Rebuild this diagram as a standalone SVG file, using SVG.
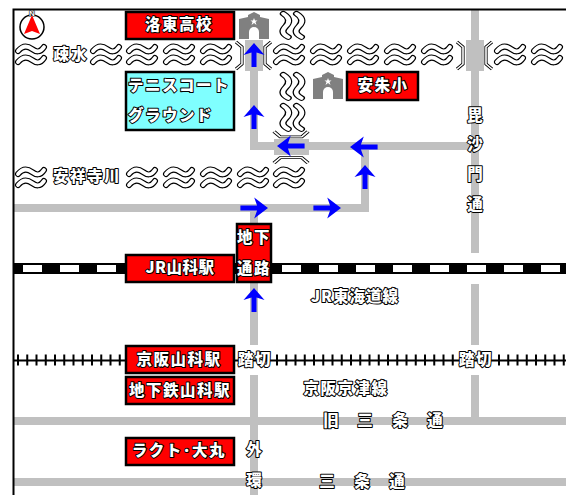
<svg xmlns="http://www.w3.org/2000/svg" width="566" height="495" viewBox="0 0 566 495">
<style>
text{font-family:"Noto Sans CJK JP","Liberation Sans",sans-serif;font-size:15.5px;font-weight:900;fill:#fff;stroke:#000;stroke-width:2px;paint-order:stroke;stroke-linejoin:round;text-anchor:middle}
.l{text-anchor:start;letter-spacing:1.500px}
.r{fill:#f00;stroke:#000;stroke-width:2.500}
.c{fill:#7fffff;stroke:#000;stroke-width:2.500}
.road{fill:none;stroke:#c0c0c0;stroke-width:8}
.bridge{fill:#c0c0c0}
.wo{fill:none;stroke:#000;stroke-width:6;stroke-linecap:round}
.wi{fill:none;stroke:#fff;stroke-width:3.800;stroke-linecap:round}
.bo{fill:none;stroke:#000;stroke-width:3.200}
.bi{fill:none;stroke:#fff;stroke-width:1.600}
.arr{fill:#00f}
.sch{fill:#808080}
</style>
<defs>
<g id="wave">
<path class="wo" d="M3 7C8 1 13 2 17 5S25 9 29 3M3 18C8 12 13 13 17 16S25 20 29 14"/>
<path class="wi" d="M3 7C8 1 13 2 17 5S25 9 29 3M3 18C8 12 13 13 17 16S25 20 29 14"/>
</g>
<g id="bridge">
<path class="bo" d="M0 0L6 5V22L0 27"/><path class="bi" d="M0 0L6 5V22L0 27"/>
<path class="bo" d="M35 0L29 5V22L35 27"/><path class="bi" d="M35 0L29 5V22L35 27"/>
</g>
<path id="up" class="arr" d="M0 0L10.500 12L2.500 9.500V24H-2.500V9.500L-10.500 12Z"/>
<g id="school">
<path class="sch" d="M0 7L9 5V3L15 0L21 3V5L30 7V27H0Z"/>
<path d="M10 27V20A5 5 0 0 1 20 20V27Z" fill="#fff"/>
<path d="M15 6L16 8.500H18.500L16.500 10L17.500 13L15 11L12.500 13L13.500 10L11.500 8.500H14Z" fill="#fff"/>
</g>
</defs>

<g id="connectors">
<path class="road" d="M254 68V146H473M365 146V208H13M254 208V345M254 375V495M13 421H566M13 482H566M475 9V253M475 284V345M475 375V421"/>
<rect class="bridge" x="245" y="40" width="18" height="31"/>
<rect class="bridge" x="466" y="40" width="18" height="31"/>
<rect class="bridge" x="274" y="139" width="35" height="16"/>
<g id="rail-jr">
<rect x="13" y="263" width="553" height="11" fill="#000"/>
<path d="M23 268.500H566" stroke="#fff" stroke-width="7" stroke-dasharray="19 18" fill="none"/>
</g>
<g id="rail-keihan">
<path d="M13 360.500H566" stroke="#000" stroke-width="2"/>
<path d="M17 360H566" stroke="#000" stroke-width="11" stroke-dasharray="2 7.250" fill="none"/>
</g>
</g>

<g id="rivers">
<use href="#wave" x="15" y="44"/><use href="#wave" x="90" y="44"/><use href="#wave" x="126" y="44"/><use href="#wave" x="163" y="44"/><use href="#wave" x="200" y="44"/>
<use href="#wave" x="273" y="44"/><use href="#wave" x="310" y="44"/><use href="#wave" x="347" y="44"/><use href="#wave" x="384" y="44"/><use href="#wave" x="421" y="44"/><use href="#wave" x="494" y="44"/><use href="#wave" x="531" y="44"/>
<use href="#wave" x="15" y="167"/><use href="#wave" x="126" y="167"/><use href="#wave" x="163" y="167"/><use href="#wave" x="200" y="167"/><use href="#wave" x="237" y="167"/><use href="#wave" x="273" y="167"/>
<use href="#wave" transform="translate(305 11) rotate(90) scale(.9 1.200)"/>
<use href="#wave" transform="translate(305 72) rotate(90) scale(.9 1.200)"/>
<use href="#wave" transform="translate(305 103) rotate(90) scale(.9 1.200)"/>
<use href="#bridge" x="236" y="42"/>
<use href="#bridge" x="457" y="42"/>
<use href="#bridge" transform="translate(274 163) rotate(-90) scale(.9 1.260)"/>
</g>

<g id="arrows">
<use href="#up" x="254" y="43"/>
<use href="#up" x="254" y="105"/>
<use href="#up" x="365" y="165"/>
<use href="#up" x="254" y="288"/>
<use href="#up" transform="translate(277 146) rotate(-90) scale(1 1.150)"/>
<use href="#up" transform="translate(350 147) rotate(-90) scale(1 1.150)"/>
<use href="#up" transform="translate(268 208) rotate(90) scale(1 1.150)"/>
<use href="#up" transform="translate(341 208) rotate(90) scale(1 1.150)"/>
</g>

<g id="frame"><path d="M13.500 495V9.500H566" fill="none" stroke="#000" stroke-width="2"/></g>

<g id="north">
<circle cx="32" cy="27" r="12" fill="#fff" stroke="#000" stroke-width="1.500"/>
<path d="M32 15L40 34L32 31L24 34Z" fill="#f00"/>
<text x="32" y="16" style="font-size:8px;stroke-width:1px;font-family:'Liberation Sans',sans-serif">N</text>
</g>

<g id="school-1"><use href="#school" x="239" y="12"/></g>
<g id="school-2"><use href="#school" x="313" y="72"/></g>

<g id="n-rakuto"><rect class="r" x="126" y="12" width="108" height="27"/><text x="179" y="30" letter-spacing="1.500">洛東高校</text></g>
<g id="n-tennis"><rect class="c" x="126" y="72" width="108" height="58"/><text class="l" x="128" y="91">テニスコート</text><text class="l" x="128" y="121">グラウンド</text></g>
<g id="n-anshu"><rect class="r" x="347" y="72" width="71" height="28"/><text x="383" y="91" letter-spacing="1.500">安朱小</text></g>
<g id="n-jr"><rect class="r" x="126" y="255" width="108" height="27"/><text x="180" y="273" letter-spacing=".5">JR山科駅</text></g>
<g id="n-chika"><rect class="r" x="237" y="224" width="34" height="58"/><text x="254" y="243" letter-spacing="1.500">地下</text><text x="254" y="274" letter-spacing="1.500">通路</text></g>
<g id="n-keihan"><rect class="r" x="126" y="346" width="108" height="27"/><text x="179" y="365" letter-spacing="1.500">京阪山科駅</text></g>
<g id="n-subway"><rect class="r" x="126" y="377" width="108" height="27"/><text x="180" y="396" letter-spacing="1.500">地下鉄山科駅</text></g>
<g id="n-rakuto-daimaru"><rect class="r" x="126" y="438" width="108" height="27"/><text x="179" y="456" letter-spacing="1.500">ラクト･大丸</text></g>

<g id="labels">
<text x="71" y="60" letter-spacing="2">疎水</text>
<text x="87" y="182" letter-spacing="1.500">安祥寺川</text>
<text x="475" y="121">毘</text><text x="475" y="150">沙</text><text x="475" y="180">門</text><text x="475" y="210">通</text>
<text x="355" y="302" letter-spacing="1">JR東海道線</text>
<text x="346" y="394" letter-spacing="1.500">京阪京津線</text>
<text x="255" y="365" letter-spacing="1.500">踏切</text>
<text x="476" y="365" letter-spacing="1.500">踏切</text>
<text x="331" y="426">旧</text><text x="365" y="426">三</text><text x="400" y="426">条</text><text x="435" y="426">通</text>
<text x="254" y="455">外</text><text x="254" y="486">環</text>
<text x="327" y="487">三</text><text x="362" y="487">条</text><text x="397" y="487">通</text>
</g>
</svg>
